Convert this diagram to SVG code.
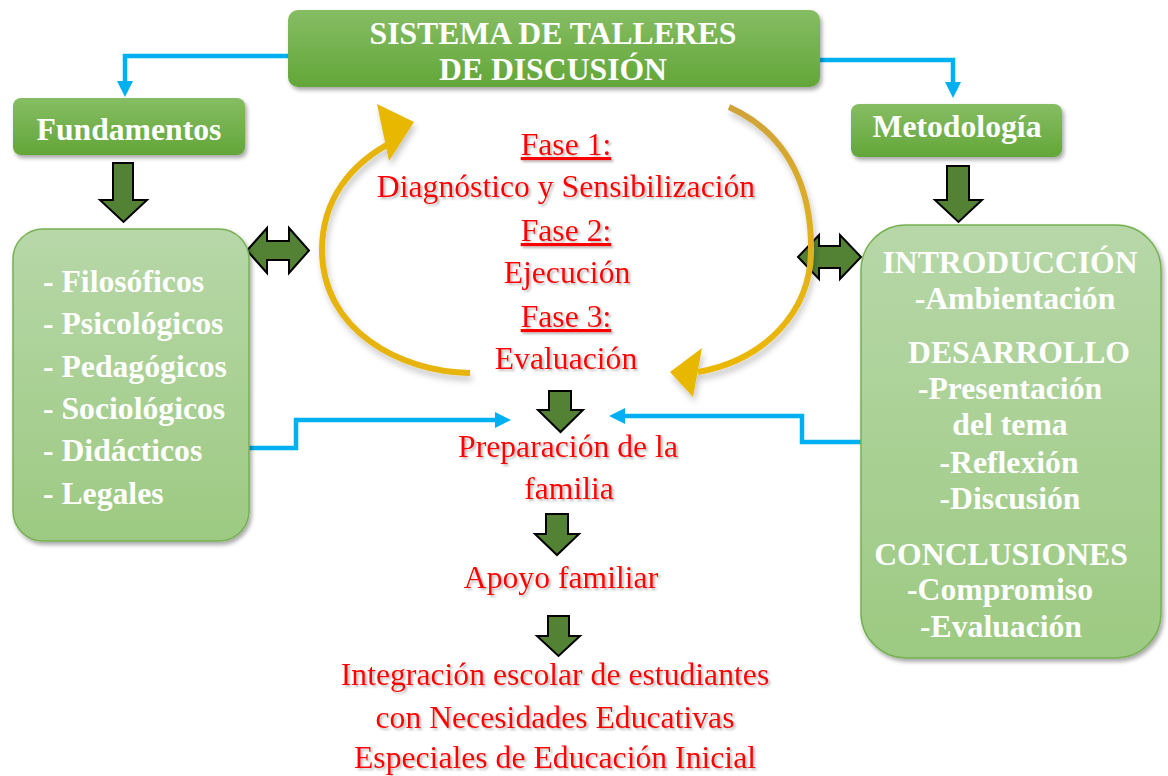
<svg xmlns="http://www.w3.org/2000/svg" width="1168" height="776" viewBox="0 0 1168 776">
<defs>
  <linearGradient id="gHead" x1="0" y1="0" x2="0" y2="1">
    <stop offset="0" stop-color="#86bd64"/>
    <stop offset="1" stop-color="#63a638"/>
  </linearGradient>
  <linearGradient id="gList" x1="0" y1="0" x2="0" y2="1">
    <stop offset="0" stop-color="#b7d7a8"/>
    <stop offset="1" stop-color="#9dca82"/>
  </linearGradient>
  <linearGradient id="gGoldR" x1="0" y1="0" x2="0" y2="1">
    <stop offset="0" stop-color="#cfa33a"/>
    <stop offset="0.6" stop-color="#e3b31a"/>
    <stop offset="1" stop-color="#ebb800"/>
  </linearGradient>
  <filter id="boxShadow" x="-10%" y="-10%" width="120%" height="130%">
    <feDropShadow dx="2" dy="3" stdDeviation="2" flood-color="#000" flood-opacity="0.35"/>
  </filter>
  <filter id="txtShadow" x="-5%" y="-20%" width="110%" height="150%">
    <feDropShadow dx="2" dy="2" stdDeviation="1" flood-color="#777" flood-opacity="0.5"/>
  </filter>
  <filter id="arcShadow" x="-20%" y="-20%" width="140%" height="140%">
    <feDropShadow dx="2" dy="5" stdDeviation="3" flood-color="#000" flood-opacity="0.22"/>
  </filter>
  <marker id="blueHead" markerUnits="userSpaceOnUse" markerWidth="20" markerHeight="20" refX="6" refY="8" orient="auto">
    <polygon points="0,0 16,8 0,16" fill="#00b0f0"/>
  </marker>
  <style>
    .head { fill: url(#gHead); filter: url(#boxShadow); }
    .list { fill: url(#gList); stroke: #76b152; stroke-width: 1.5; filter: url(#boxShadow); }
    .wt { font-family: "Liberation Serif", "Times New Roman", serif; font-weight: bold; font-size: 31.7px; fill: #ffffff; }
    .red { font-family: "Liberation Serif", "Times New Roman", serif; font-size: 31.7px; fill: #ff0000; filter: url(#txtShadow); }
    .ul { text-decoration: underline; }
    .mid { text-anchor: middle; }
    .blue { fill: none; stroke: #00b0f0; stroke-width: 4.5; marker-end: url(#blueHead); }
    .block { fill: #548235; stroke: #000; stroke-width: 2; stroke-linejoin: miter; }
    .arc { fill: none; stroke-width: 6; }
  </style>
</defs>
<rect width="1168" height="776" fill="#ffffff"/>

<g id="connectors">
  <path class="blue" d="M288,56 H125 V87"/>
  <path class="blue" d="M820,60 H953 V88"/>
  <path class="blue" d="M249,448 H296 V420 H501"/>
  <path class="blue" d="M861,442 H802 V416 H619"/>
  <polygon class="block" points="113,163 133,163 133,200 147,200 123.5,222 100,200 113,200"/>
  <polygon class="block" points="947,166 969,166 969,200 982,200 958.5,222 935,200 947,200"/>
  <polygon class="block" points="549,391 571,391 571,410 583,410 560.5,432 538,410 549,410"/>
  <polygon class="block" points="546,514 568,514 568,534 579,534 557,555 535,534 546,534"/>
  <polygon class="block" points="548,616 569,616 569,636 580,636 558.5,656 537,636 548,636"/>
  <polygon class="block" points="247,250.5 267,228 267,241 289,241 289,228 309,250.5 289,273 289,260 267,260 267,273"/>
  <polygon class="block" points="798,257 819,235 819,246 840,246 840,235 861,257 840,279 840,268 819,268 819,279"/>
  <g id="cycle-arrows" filter="url(#arcShadow)">
    <path class="arc" stroke="#e6b409" d="M470,373 C400,372 322,330 322,250 C322,200 350,163 396,140"/>
    <polygon fill="#e8b800" points="377,104 414,122 389,161"/>
    <path class="arc" stroke="url(#gGoldR)" d="M729,107 C793,136 812,195 811,252 C810,312 765,360 698,372"/>
    <polygon fill="#e8b800" points="670,372 702,348 693,397"/>
  </g>
</g>

<g id="sistema">
  <rect class="head" x="288" y="10" width="532" height="77" rx="10"/>
  <text class="wt mid" x="553" y="44">SISTEMA DE TALLERES</text>
  <text class="wt mid" x="553" y="80">DE DISCUSIÓN</text>
</g>

<g id="fundamentos">
  <rect class="head" x="13" y="98" width="232" height="57" rx="8"/>
  <text class="wt mid" x="129" y="140">Fundamentos</text>
</g>

<g id="metodologia">
  <rect class="head" x="851" y="104" width="211" height="53" rx="8"/>
  <text class="wt mid" x="957" y="137">Metodología</text>
</g>

<g id="fundamentos-lista">
  <rect class="list" x="13" y="229" width="236" height="312" rx="30"/>
  <text class="wt" x="43" y="292">- Filosóficos</text>
  <text class="wt" x="43" y="334">- Psicológicos</text>
  <text class="wt" x="43" y="377">- Pedagógicos</text>
  <text class="wt" x="43" y="419">- Sociológicos</text>
  <text class="wt" x="43" y="461">- Didácticos</text>
  <text class="wt" x="43" y="504">- Legales</text>
</g>

<g id="metodologia-lista">
  <rect class="list" x="861" y="225" width="300" height="433" rx="45"/>
  <text class="wt mid" x="1010" y="273" textLength="255" lengthAdjust="spacingAndGlyphs">INTRODUCCIÓN</text>
  <text class="wt mid" x="1015" y="309">-Ambientación</text>
  <text class="wt mid" x="1019" y="363">DESARROLLO</text>
  <text class="wt mid" x="1010" y="399">-Presentación</text>
  <text class="wt mid" x="1010" y="435">del tema</text>
  <text class="wt mid" x="1009" y="473">-Reflexión</text>
  <text class="wt mid" x="1010" y="509">-Discusión</text>
  <text class="wt mid" x="1001" y="565">CONCLUSIONES</text>
  <text class="wt mid" x="1000" y="600">-Compromiso</text>
  <text class="wt mid" x="1001" y="637">-Evaluación</text>
</g>

<g id="fases">
  <text class="red mid ul" x="566" y="155">Fase 1:</text>
  <text class="red mid" x="566" y="197">Diagnóstico y Sensibilización</text>
  <text class="red mid ul" x="566" y="241">Fase 2:</text>
  <text class="red mid" x="567" y="283">Ejecución</text>
  <text class="red mid ul" x="566" y="327">Fase 3:</text>
  <text class="red mid" x="566" y="369">Evaluación</text>
</g>

<g id="preparacion">
  <text class="red mid" x="568" y="457">Preparación de la</text>
  <text class="red mid" x="569" y="499">familia</text>
</g>

<g id="apoyo">
  <text class="red mid" x="561" y="588">Apoyo familiar</text>
</g>

<g id="integracion">
  <text class="red mid" x="555" y="685">Integración escolar de estudiantes</text>
  <text class="red mid" x="555" y="728">con Necesidades Educativas</text>
  <text class="red mid" x="555" y="768">Especiales de Educación Inicial</text>
</g>
</svg>
